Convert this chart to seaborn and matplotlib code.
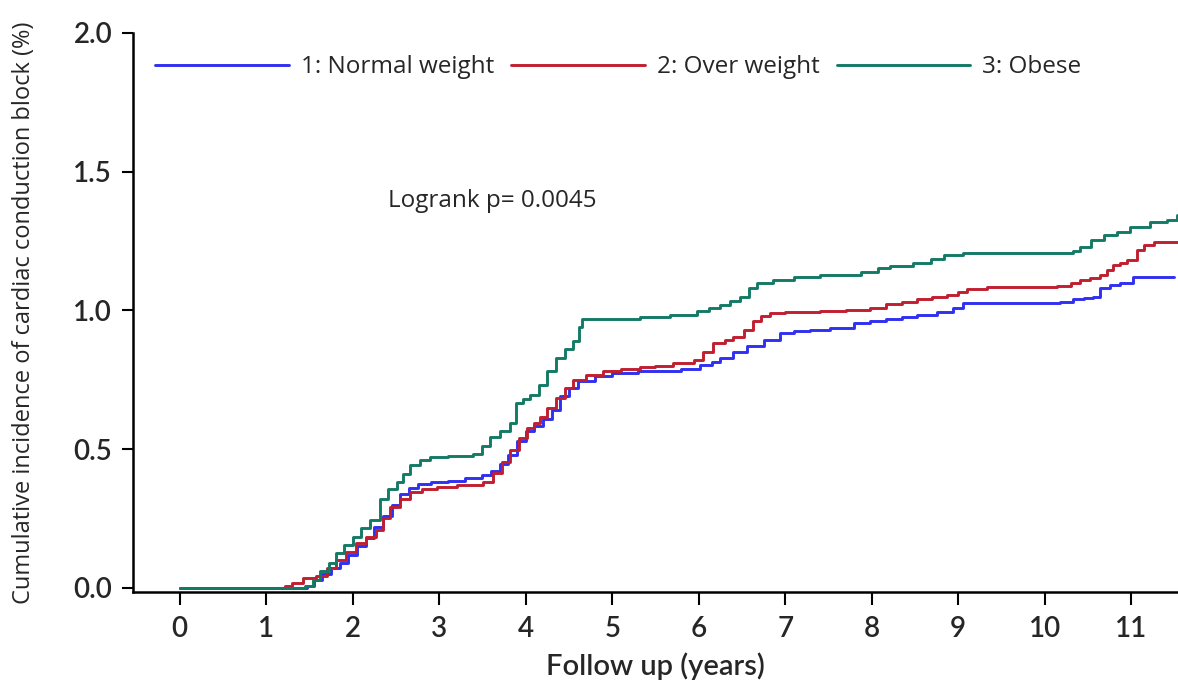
import pandas as pd
import numpy as np
import matplotlib
matplotlib.use("Agg")
import matplotlib.pyplot as plt
import seaborn as sns

# ---------------------------------------------------------------- data
groups = ["1: Normal weight", "2: Over weight", "3: Obese"]
colors = ["#3030f0", "#c01f2f", "#137a66"]

normal_t = [0, 1.47, 1.55, 1.65, 1.75, 1.85, 1.95, 2.05, 2.15, 2.25, 2.35, 2.45, 2.55, 2.65, 2.75,
            2.9, 3.1, 3.3, 3.5, 3.6, 3.7, 3.8, 3.9, 4.0, 4.1, 4.2, 4.3, 4.4, 4.5, 4.6, 4.8, 5.0,
            5.3, 5.63, 5.8, 6.02, 6.15, 6.25, 6.4, 6.56, 6.75, 6.94, 7.1, 7.29, 7.52, 7.79, 7.98,
            8.17, 8.35, 8.52, 8.75, 8.94, 9.06, 10.18, 10.33, 10.45, 10.56, 10.64, 10.75, 10.87,
            11.02, 11.49]
normal_v = [0, 0.005, 0.03, 0.05, 0.07, 0.09, 0.12, 0.15, 0.18, 0.22, 0.26, 0.30, 0.34, 0.36, 0.375,
            0.38, 0.385, 0.395, 0.405, 0.42, 0.445, 0.48, 0.53, 0.565, 0.585, 0.61, 0.64, 0.69, 0.72,
            0.745, 0.765, 0.776, 0.78, 0.783, 0.79, 0.803, 0.815, 0.83, 0.85, 0.87, 0.895, 0.92,
            0.925, 0.93, 0.938, 0.956, 0.962, 0.969, 0.976, 0.984, 0.995, 1.009, 1.028, 1.03,
            1.041, 1.045, 1.05, 1.08, 1.09, 1.099, 1.121, 1.121]

over_t = [0, 1.22, 1.3, 1.43, 1.58, 1.7, 1.81, 1.92, 2.04, 2.15, 2.27, 2.35, 2.43, 2.55, 2.66, 2.8,
          2.97, 3.2, 3.51, 3.62, 3.72, 3.82, 3.92, 4.01, 4.1, 4.16, 4.25, 4.35, 4.45, 4.55, 4.7, 4.89,
          5.1, 5.32, 5.5, 5.70, 5.94, 6.05, 6.17, 6.30, 6.40, 6.52, 6.63, 6.72, 6.82, 7.0, 7.4, 7.7,
          7.98, 8.17, 8.35, 8.52, 8.7, 8.87, 9.0, 9.10, 9.33, 10.14, 10.3, 10.41, 10.52, 10.64,
          10.72, 10.79, 10.87, 10.95, 11.07, 11.15, 11.26, 11.54]
over_v = [0, 0.008, 0.018, 0.036, 0.041, 0.07, 0.10, 0.13, 0.16, 0.185, 0.209, 0.25, 0.293, 0.32,
          0.347, 0.358, 0.365, 0.37, 0.383, 0.414, 0.455, 0.497, 0.54, 0.577, 0.595, 0.617, 0.65,
          0.685, 0.72, 0.75, 0.768, 0.783, 0.79, 0.796, 0.80, 0.81, 0.82, 0.85, 0.883, 0.895, 0.905,
          0.93, 0.96, 0.98, 0.992, 0.995, 0.999, 1.003, 1.009, 1.023, 1.03, 1.04, 1.048, 1.056,
          1.065, 1.077, 1.086, 1.088, 1.10, 1.11, 1.118, 1.128, 1.145, 1.164, 1.172, 1.182, 1.218,
          1.235, 1.248, 1.248]

obese_t = [0, 1.45, 1.54, 1.62, 1.72, 1.81, 1.9, 2.0, 2.1, 2.20, 2.31, 2.41, 2.51, 2.58, 2.66, 2.78,
           2.89, 3.1, 3.39, 3.5, 3.59, 3.7, 3.82, 3.89, 3.97, 4.05, 4.15, 4.25, 4.35, 4.45, 4.55,
           4.62, 4.65, 5.32, 5.67, 5.98, 6.12, 6.25, 6.36, 6.48, 6.58, 6.67, 6.86, 7.1, 7.4, 7.87,
           8.07, 8.21, 8.48, 8.68, 8.83, 9.06, 10.33, 10.41, 10.53, 10.68, 10.84, 10.99, 11.22,
           11.41, 11.53]
obese_v = [0, 0.005, 0.03, 0.06, 0.09, 0.126, 0.155, 0.185, 0.215, 0.245, 0.32, 0.355, 0.383, 0.41,
           0.443, 0.462, 0.473, 0.477, 0.483, 0.51, 0.545, 0.565, 0.594, 0.666, 0.68, 0.695, 0.73,
           0.78, 0.83, 0.86, 0.89, 0.94, 0.968, 0.975, 0.984, 0.999, 1.01, 1.02, 1.035, 1.05, 1.08,
           1.10, 1.11, 1.12, 1.128, 1.14, 1.153, 1.16, 1.171, 1.186, 1.20, 1.208, 1.215, 1.23,
           1.254, 1.272, 1.284, 1.302, 1.32, 1.326, 1.344]

x_ticks = list(range(0, 12))
y_ticks = [0.0, 0.5, 1.0, 1.5, 2.0]

df = pd.concat([
    pd.DataFrame({"time": normal_t, "cum": normal_v, "group": groups[0]}),
    pd.DataFrame({"time": over_t, "cum": over_v, "group": groups[1]}),
    pd.DataFrame({"time": obese_t, "cum": obese_v, "group": groups[2]}),
], ignore_index=True)

# ---------------------------------------------------------------- plot
sns.set_style("ticks")
plt.rcParams["font.family"] = ["Open Sans", "DejaVu Sans"]
tick_font = ["Lato", "DejaVu Sans"]

fig = plt.figure(figsize=(11.78, 6.86), dpi=100)
ax = fig.add_axes([0.1129, 0.137, 0.8871, 0.815])

sns.lineplot(data=df, x="time", y="cum", hue="group", hue_order=groups,
             palette=dict(zip(groups, colors)), estimator=None, sort=False,
             drawstyle="steps-post", linewidth=2.1, ax=ax)

ax.set_xlim(-0.54, 11.54)
ax.set_ylim(-0.015, 2.0)
ax.set_xticks(x_ticks)
ax.set_yticks(y_ticks)
ax.set_yticklabels([f"{v:.1f}" for v in y_ticks], family=tick_font, fontsize=20, weight="semibold")
ax.set_xticklabels([str(v) for v in x_ticks], family=tick_font, fontsize=20, weight="semibold")
ax.tick_params(axis="y", length=8, width=1.5, pad=7, color="black")
ax.tick_params(axis="x", length=9, width=1.5, pad=8, color="black")

for s in ["top", "right"]:
    ax.spines[s].set_visible(False)
for s in ["left", "bottom"]:
    ax.spines[s].set_linewidth(1.8)
    ax.spines[s].set_color("black")

ax.set_xlabel("Follow up (years)", family=tick_font, fontsize=21, weight="semibold", labelpad=8)
ax.set_ylabel("Cumulative incidence of cardiac conduction block (%)", fontsize=17, labelpad=27)

ax.text(2.41, 1.395, "Logrank p= 0.0045", fontsize=17.5, ha="left", va="center")

handles, labels = ax.get_legend_handles_labels()
ax.legend(handles, labels, ncol=3, loc="center left", bbox_to_anchor=(0.0, 0.939),
          frameon=False, fontsize=17.5, handlelength=5.5, handletextpad=0.5,
          columnspacing=0.7)

fig.savefig("out.png", dpi=100)
